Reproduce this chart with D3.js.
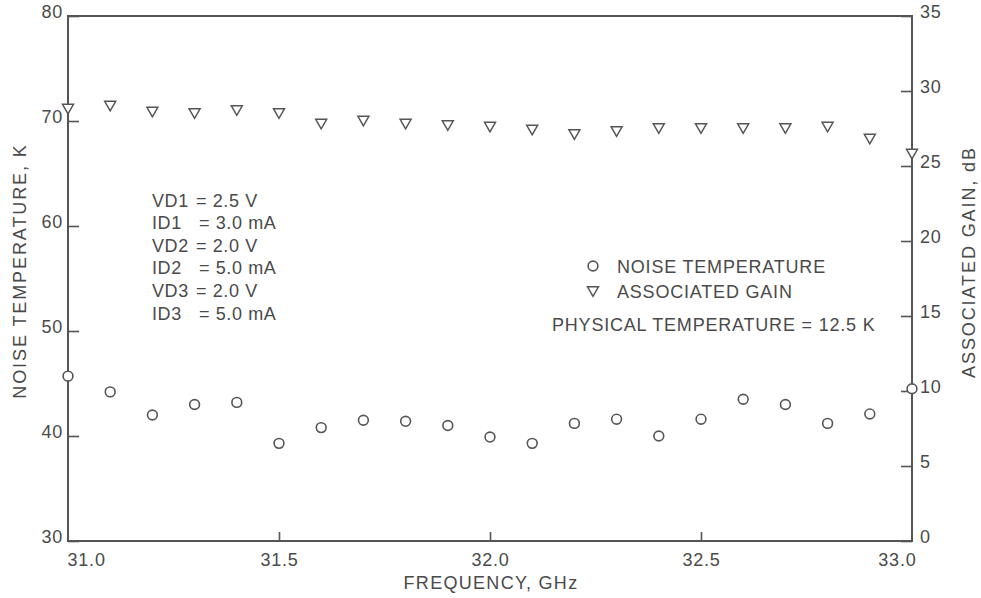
<!DOCTYPE html>
<html>
<head>
<meta charset="utf-8">
<script src="https://cdn.jsdelivr.net/npm/d3@7"></script>
<style>
  body { margin: 0; background: #fff; }
  svg text { font-family: "Liberation Sans", Arial, sans-serif; fill: #4a4a4a; }
</style>
</head>
<body>
<svg id="chart" width="981" height="598"></svg>
<script>
// frequency points, GHz
var freq = [31.0, 31.1, 31.2, 31.3, 31.4, 31.5, 31.6, 31.7, 31.8, 31.9, 32.0,
            32.1, 32.2, 32.3, 32.4, 32.5, 32.6, 32.7, 32.8, 32.9, 33.0];
// noise temperature, K (left axis)
var noiseTemp = [45.7, 44.2, 42.0, 43.0, 43.2, 39.3, 40.8, 41.5, 41.4, 41.0, 39.9,
                 39.3, 41.2, 41.6, 40.0, 41.6, 43.5, 43.0, 41.2, 42.1, 44.5];
// associated gain, dB (right axis)
var gain = [28.9, 29.1, 28.7, 28.6, 28.8, 28.6, 27.9, 28.1, 27.9, 27.8, 27.7,
            27.5, 27.2, 27.4, 27.6, 27.6, 27.6, 27.6, 27.7, 26.9, 25.9];

var xTicks = [31.0, 31.5, 32.0, 32.5, 33.0];
var leftTicks = [30, 40, 50, 60, 70, 80];
var rightTicks = [0, 5, 10, 15, 20, 25, 30, 35];

var biasLines = [
  ['VD1', '= 2.5 V'],
  ['ID1', '= 3.0 mA'],
  ['VD2', '= 2.0 V'],
  ['ID2', '= 5.0 mA'],
  ['VD3', '= 2.0 V'],
  ['ID3', '= 5.0 mA']
];

var ink = '#555';
var svg = d3.select('#chart');

var x = d3.scaleLinear().domain([31, 33]).range([68, 912]);
var yL = d3.scaleLinear().domain([30, 80]).range([541, 16]);
var yR = d3.scaleLinear().domain([0, 35]).range([541, 16]);

// frame
svg.append('rect')
  .attr('x', 68).attr('y', 16)
  .attr('width', 912 - 68).attr('height', 541 - 16)
  .attr('fill', 'none').attr('stroke', ink).attr('stroke-width', 2);

function styleAxis(g) {
  g.select('.domain').remove();
  g.selectAll('.tick line').attr('stroke', ink).attr('stroke-width', 1.6);
  g.selectAll('.tick text')
    .style('font-size', '18px')
    .style('letter-spacing', '0.8px')
    .attr('fill', '#4a4a4a');
}

// bottom axis
var gx = svg.append('g')
  .attr('transform', 'translate(0,541)')
  .call(d3.axisBottom(x).tickValues(xTicks).tickFormat(d3.format('.1f'))
    .tickSize(-9).tickPadding(12));
styleAxis(gx);
gx.selectAll('.tick')
  .filter(function(d) { return d === 31 || d === 33; })
  .select('line').remove();
gx.selectAll('.tick text')
  .attr('text-anchor', function(d) { return d === 31 ? 'start' : d === 33 ? 'end' : 'middle'; })
  .attr('dx', function(d) { return d === 31 ? -1 : d === 33 ? 4 : 0; });

// left axis
var gl = svg.append('g')
  .attr('transform', 'translate(68,0)')
  .call(d3.axisLeft(yL).tickValues(leftTicks).tickSize(-11).tickPadding(5));
styleAxis(gl);
gl.selectAll('.tick text').attr('dy', '0.1em');

// right axis
var gr = svg.append('g')
  .attr('transform', 'translate(912,0)')
  .call(d3.axisRight(yR).tickValues(rightTicks).tickSize(-11).tickPadding(8));
styleAxis(gr);
gr.selectAll('.tick text').attr('dy', '0.1em');

// axis titles
svg.append('text')
  .attr('transform', 'translate(26,271) rotate(-90)')
  .attr('text-anchor', 'middle')
  .style('font-size', '18px').style('letter-spacing', '1.9px')
  .text('NOISE TEMPERATURE, K');

svg.append('text')
  .attr('transform', 'translate(975,262) rotate(-90)')
  .attr('text-anchor', 'middle')
  .style('font-size', '18px').style('letter-spacing', '1.9px')
  .text('ASSOCIATED GAIN, dB');

svg.append('text')
  .attr('x', 491).attr('y', 589)
  .attr('text-anchor', 'middle')
  .style('font-size', '18px').style('letter-spacing', '1.3px')
  .text('FREQUENCY, GHz');

// data marks
var triangle = d3.symbol().type(d3.symbolTriangle).size(52);

svg.append('g').selectAll('path')
  .data(freq)
  .enter()
  .append('path')
  .attr('d', triangle)
  .attr('transform', function(d, i) { return 'translate(' + x(d) + ',' + yR(gain[i]) + ') rotate(180)'; })
  .attr('fill', '#fff').attr('stroke', ink).attr('stroke-width', 1.5);

svg.append('g').selectAll('circle')
  .data(freq)
  .enter()
  .append('circle')
  .attr('cx', function(d) { return x(d); })
  .attr('cy', function(d, i) { return yL(noiseTemp[i]); })
  .attr('r', 4.9)
  .attr('fill', '#fff').attr('stroke', ink).attr('stroke-width', 1.6);

// bias conditions
var bias = svg.append('g').style('font-size', '18px').style('letter-spacing', '0.6px');
bias.selectAll('text.name')
  .data(biasLines)
  .enter()
  .append('text')
  .attr('class', 'name')
  .attr('x', 152)
  .attr('y', function(d, i) { return 206.5 + i * 22.6; })
  .text(function(d) { return d[0]; });
bias.selectAll('text.val')
  .data(biasLines)
  .enter()
  .append('text')
  .attr('class', 'val')
  .attr('x', function(d) { return d[0].charAt(0) === 'V' ? 196 : 199; })
  .attr('y', function(d, i) { return 206.5 + i * 22.6; })
  .text(function(d) { return d[1]; });

// legend
var legend = svg.append('g').style('font-size', '18px').style('letter-spacing', '0.8px');
legend.append('circle')
  .attr('cx', 593).attr('cy', 266).attr('r', 4.9)
  .attr('fill', '#fff').attr('stroke', ink).attr('stroke-width', 1.6);
legend.append('text').attr('x', 617).attr('y', 273).text('NOISE TEMPERATURE');
legend.append('path')
  .attr('d', triangle)
  .attr('transform', 'translate(593,290) rotate(180)')
  .attr('fill', '#fff').attr('stroke', ink).attr('stroke-width', 1.5);
legend.append('text').attr('x', 617).attr('y', 298).text('ASSOCIATED GAIN');
legend.append('text').attr('x', 552).attr('y', 331).text('PHYSICAL TEMPERATURE = 12.5 K');
</script>
</body>
</html>
